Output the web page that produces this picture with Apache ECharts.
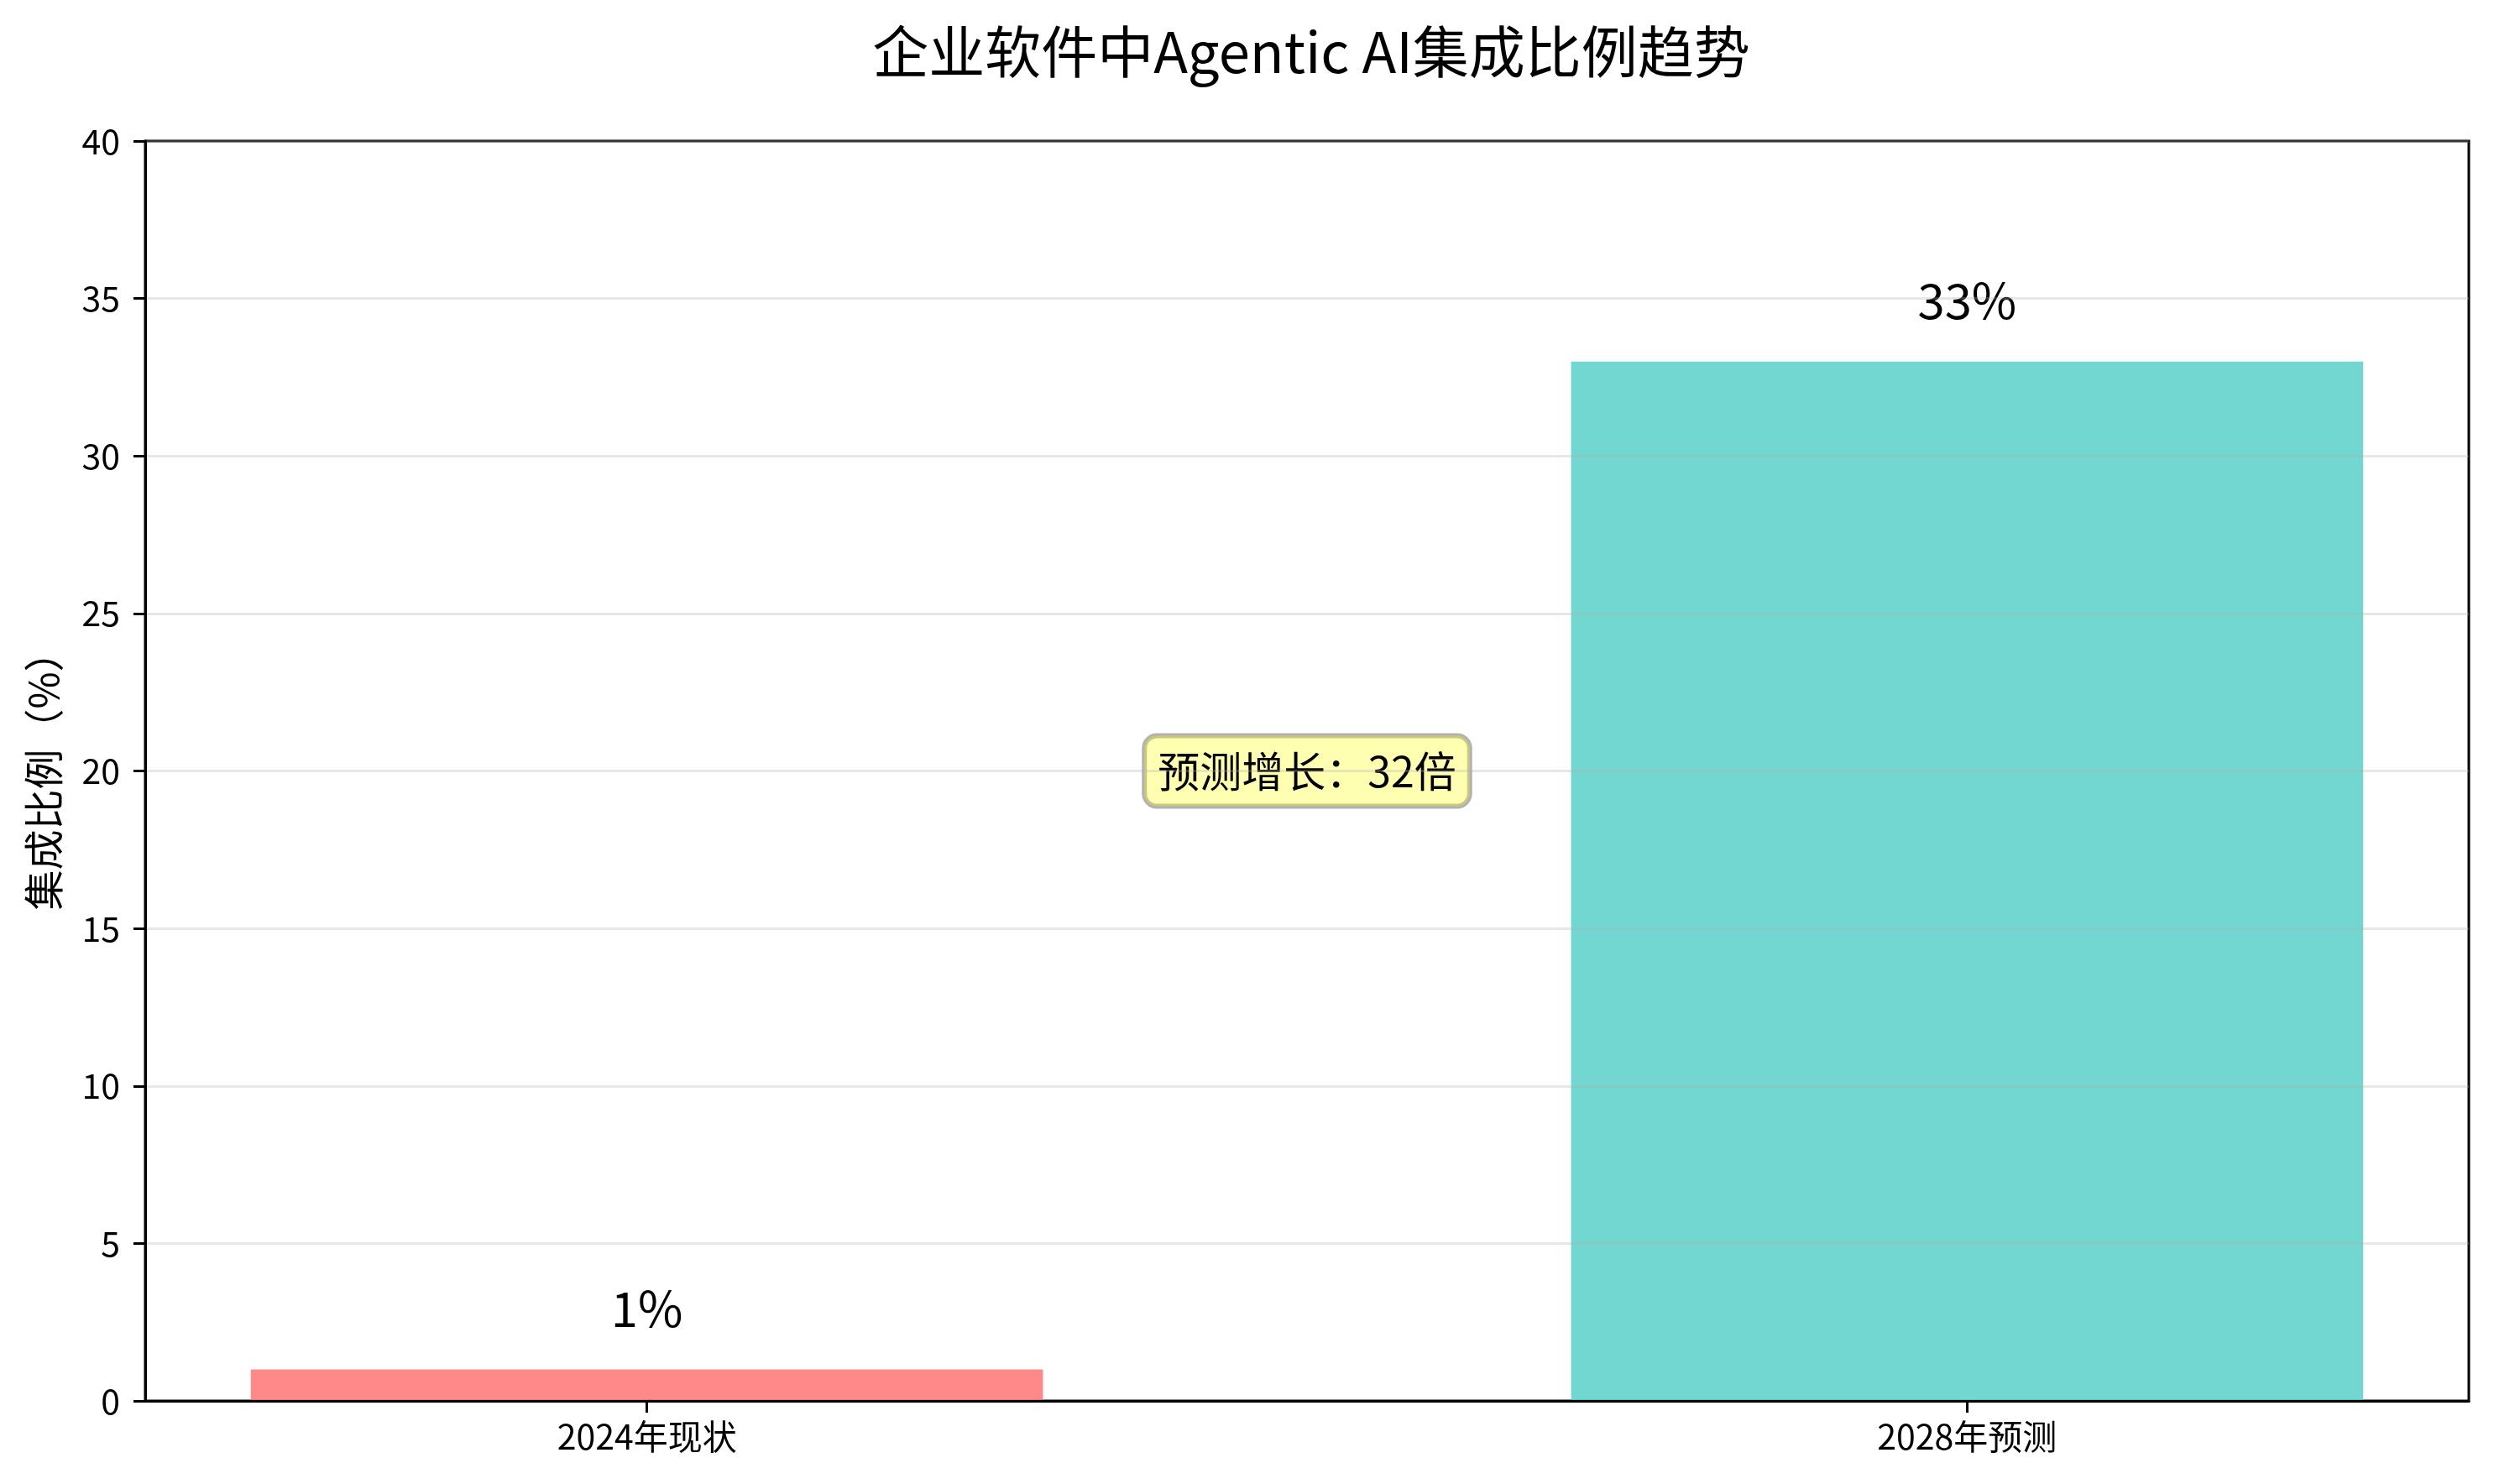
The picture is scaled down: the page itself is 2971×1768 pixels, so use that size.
<!DOCTYPE html>
<html>
<head>
<meta charset="utf-8">
<script src="https://cdn.jsdelivr.net/npm/echarts@6/dist/echarts.min.js"></script>
<style>
html,body{margin:0;padding:0;background:#fff;}
#c{width:2971px;height:1768px;}
</style>
</head>
<body>
<div id="c"></div>
<script>
// ---- data ----
const categories = ['2024年现状', '2028年预测'];
const values = [1, 33];
const barColors = ['rgba(255,107,107,0.8)', 'rgba(78,205,196,0.8)'];
const yTicks = [0, 5, 10, 15, 20, 25, 30, 35, 40];
const annotationText = '预测增长：32倍';
const annotationAt = [0.5, 20];
const titleText = '企业软件中Agentic AI集成比例趋势';
const yAxisName = '集成比例（%）';

// ---- layout ----
const FONT = '"Noto Sans CJK SC", "Noto Sans", sans-serif';
const gridLeft = 173, gridRight = 30, gridTop = 168, gridBottom = 99;
const xMin = -0.38, xMax = 1.38, barFrac = 0.6;

const chart = echarts.init(document.getElementById('c'), null, {renderer: 'canvas'});
const gridW = chart.getWidth() - gridLeft - gridRight;
const barWidth = gridW * barFrac / (xMax - xMin);
const titleCenterX = gridLeft + gridW / 2;

const catPositions = categories.map((_, i) => i);

const option = {
  backgroundColor: '#fff',
  animation: false,
  title: {
    text: titleText,
    left: titleCenterX,
    textAlign: 'center',
    top: 23,
    textStyle: {fontFamily: FONT, fontSize: 67, fontWeight: 'normal', color: '#000'}
  },
  grid: {
    left: gridLeft, right: gridRight, top: gridTop, bottom: gridBottom,
    show: true, borderColor: '#000', borderWidth: 3, backgroundColor: 'transparent'
  },
  xAxis: {
    type: 'value',
    min: xMin, max: xMax,
    z: 10,
    axisLine: {show: true, onZero: false, lineStyle: {color: '#000', width: 3}},
    axisTick: {show: true, length: 14, lineStyle: {color: '#000', width: 3}, customValues: catPositions},
    axisLabel: {
      show: true, margin: 22, color: '#000', fontFamily: FONT, fontSize: 41,
      customValues: catPositions,
      formatter: v => categories[Math.round(v)]
    },
    splitLine: {show: false}
  },
  yAxis: {
    type: 'value',
    min: yTicks[0], max: yTicks[yTicks.length - 1], interval: yTicks[1] - yTicks[0],
    z: 10,
    name: yAxisName,
    nameLocation: 'middle',
    nameGap: 97,
    nameTextStyle: {fontFamily: FONT, fontSize: 48, color: '#000'},
    axisLine: {show: true, onZero: false, lineStyle: {color: '#000', width: 3}},
    axisTick: {show: true, length: 14, lineStyle: {color: '#000', width: 3}},
    axisLabel: {margin: 30, color: '#000', fontFamily: FONT, fontSize: 41},
    splitLine: {show: true, lineStyle: {color: 'rgba(176,176,176,0.3)', width: 3}}
  },
  series: [{
    type: 'bar',
    barWidth: barWidth,
    data: values.map((v, i) => ({value: [catPositions[i], v], itemStyle: {color: barColors[i]}})),
    label: {
      show: true, position: 'top', distance: 44,
      formatter: p => p.value[1] + '%',
      fontFamily: FONT, fontSize: 58, color: '#000'
    },
    markPoint: {
      symbol: 'rect', symbolSize: 0,
      data: [{
        coord: annotationAt,
        label: {
          show: true, position: 'inside',
          formatter: annotationText,
          fontFamily: FONT, fontSize: 50, color: '#000',
          lineHeight: 54,
          backgroundColor: 'rgba(255,255,0,0.3)',
          borderColor: 'rgba(0,0,0,0.3)', borderWidth: 3, borderRadius: 15,
          padding: [15, 16]
        }
      }]
    }
  }]
};
chart.setOption(option);
</script>
</body>
</html>
